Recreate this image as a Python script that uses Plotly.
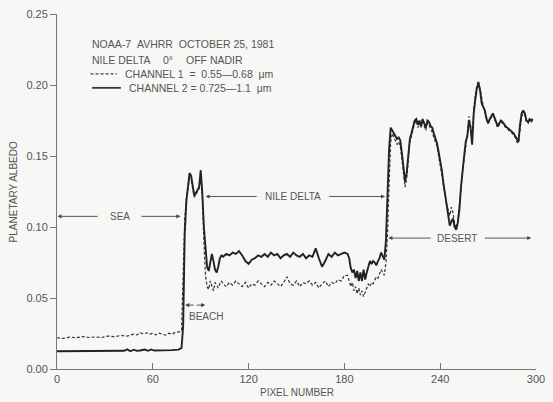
import plotly.graph_objects as go

# ---------------- data ----------------
# Channel 2 (solid) : pixel number / planetary albedo
CH2_SEA_X = [0, 6, 12, 18, 24, 30, 36, 42, 44, 46, 48, 50, 52, 55, 57, 59, 61, 64, 68, 72, 76, 78]
CH2_SEA_Y = [.0125, .0125, .0126, .0126, .0127, .0127, .0128, .0128, .0138, .0125, .0136, .0128,
             .0130, .0137, .0128, .0138, .0130, .0130, .0132, .0133, .0136, .0148]

BEACH_X = [79, 80, 81, 82, 83, 84, 85, 86, 87, 88, 89, 90, 91, 92, 93, 94, 95, 96, 97, 98, 99, 100, 101, 102, 103]
CH2_BEACH_Y = [.030, .095, .118, .130, .138, .136, .128, .122, .124, .126, .128, .140, .124, .100, .082,
               .072, .069, .074, .081, .076, .070, .068, .072, .078, .080]

DELTA_X = [104, 106, 108, 110, 112, 114, 116, 118, 120, 122,
           124, 126, 128, 130, 132, 134, 136, 138, 140, 142,
           144, 146, 148, 150, 152, 154, 156, 158, 160, 162,
           164, 166, 168, 170, 172, 174, 176, 178, 180, 182]
CH2_DELTA_Y = [.079, .081, .080, .082, .081, .083, .080, .076, .074, .077,
               .078, .080, .079, .081, .079, .082, .080, .081, .078, .080,
               .081, .079, .082, .080, .079, .081, .078, .080, .079, .085,
               .078, .072, .076, .081, .079, .082, .080, .081, .082, .081]

DESERT_X = [183, 184, 185, 186, 187, 188, 189, 190, 191, 192,
            193, 194, 195, 196, 197, 198, 199, 200, 201, 202,
            203, 204, 205, 206, 207, 208, 209, 210, 211, 212,
            213, 214, 215, 216, 217, 218, 219, 220, 221, 222,
            223, 224, 225, 226, 227, 228, 229, 230, 231, 232,
            233, 234, 235, 236, 237, 238, 239, 240, 241, 242,
            243, 244, 245, 246, 247, 248, 249, 250, 251, 252,
            253, 254, 255, 256, 257, 258, 259, 260, 261, 262,
            263, 264, 265, 266, 267, 268, 269, 270, 271, 272,
            273, 274, 275, 276, 277, 278, 279, 280, 281, 282,
            283, 284, 285, 286, 287, 288, 289, 290, 291, 292,
            293, 294, 295, 296, 297, 298]
CH2_DESERT_Y = [.078, .071, .068, .070, .064, .069, .062, .068, .062, .070,
                .063, .068, .073, .076, .074, .076, .075, .073, .076, .078,
                .082, .080, .077, .090, .125, .155, .170, .168, .166, .164,
                .162, .163, .161, .152, .142, .132, .138, .152, .162, .166,
                .170, .175, .176, .172, .175, .171, .176, .173, .170, .175,
                .174, .171, .170, .166, .162, .159, .153, .147, .140, .131,
                .124, .115, .108, .101, .104, .106, .100, .098, .103, .112,
                .128, .142, .150, .160, .164, .175, .170, .158, .180, .190,
                .198, .201, .196, .187, .184, .182, .176, .173, .176, .178,
                .180, .177, .174, .171, .173, .175, .174, .172, .171, .170,
                .169, .168, .167, .166, .164, .162, .160, .172, .180, .182,
                .180, .175, .174, .176, .175, .176]

# Channel 1 (dashed)
CH1_SEA_X = [0, 4, 8, 12, 16, 20, 24, 28, 32, 36, 40, 44, 48, 50, 52, 54, 56, 58, 60, 62, 64, 66, 68, 70,
             72, 74, 76, 78]
CH1_SEA_Y = [.0220, .0215, .0225, .0220, .0228, .0222, .0226, .0222, .0232, .0228, .0236, .0232, .0245,
             .0240, .0255, .0248, .0255, .0245, .0252, .0240, .0252, .0245, .0238, .0252, .0245, .0258,
             .0260, .0270]
CH1_BEACH_Y = [.060, .105, .120, .128, .134, .133, .126, .121, .123, .125, .127, .136, .122, .090, .066,
               .058, .056, .062, .058, .055, .061, .059, .057, .060, .062]
CH1_DELTA_Y = [.060, .058, .061, .059, .062, .060, .058, .061, .057, .060,
               .059, .062, .060, .058, .061, .059, .062, .060, .058, .061,
               .065, .060, .059, .062, .058, .061, .060, .062, .059, .061,
               .057, .060, .062, .058, .061, .060, .063, .062, .066, .066]
CH1_DESERT_Y = [.062, .058, .061, .055, .058, .053, .057, .052, .055, .051,
                .054, .057, .060, .058, .061, .060, .063, .065, .064, .067,
                .070, .068, .066, .075, .095, .130, .160, .166, .163, .160,
                .158, .160, .157, .148, .136, .128, .134, .150, .160, .164,
                .168, .173, .175, .170, .173, .170, .174, .171, .168, .173,
                .172, .169, .167, .163, .160, .157, .150, .144, .137, .129,
                .122, .116, .112, .108, .114, .110, .103, .099, .104, .113,
                .126, .140, .148, .158, .165, .178, .172, .160, .183, .193,
                .200, .203, .197, .189, .185, .181, .177, .174, .175, .177,
                .179, .176, .173, .170, .172, .174, .173, .171, .170, .169,
                .168, .167, .166, .165, .163, .160, .159, .170, .178, .180,
                .179, .174, .173, .175, .174, .175]

X_TICKS = [0, 60, 120, 180, 240, 300]
Y_TICKS = [0.0, 0.05, 0.10, 0.15, 0.20, 0.25]
Y_TICK_TEXT = ["0.00", "0.05", "0.10", "0.15", "0.20", "0.25"]

NB = "\u00a0"
HEADER_1 = "NOAA-7" + NB * 2 + "AVHRR" + NB * 2 + "OCTOBER 25, 1981"
HEADER_2 = ["NILE DELTA", "0°", "OFF NADIR"]
LEGEND_1 = "CHANNEL 1" + NB * 2 + "=" + NB * 2 + "0.55—0.68" + NB * 2 + "μm"
LEGEND_2 = "CHANNEL 2 = 0.725—1.1" + NB * 2 + "μm"

# ---------------- figure ----------------
FONT = "Liberation Sans, Arial, sans-serif"
INK = "#222222"
TXT = "#555555"

ch2_x = CH2_SEA_X + BEACH_X + DELTA_X + DESERT_X
ch2_y = CH2_SEA_Y + CH2_BEACH_Y + CH2_DELTA_Y + CH2_DESERT_Y
ch1_x = CH1_SEA_X + BEACH_X + DELTA_X + DESERT_X
ch1_y = CH1_SEA_Y + CH1_BEACH_Y + CH1_DELTA_Y + CH1_DESERT_Y

fig = go.Figure()
fig.add_trace(go.Scatter(x=ch1_x, y=ch1_y, mode="lines",
                         line=dict(color="#333333", width=1.2, dash="3px,2px"),
                         showlegend=False, hoverinfo="skip"))
fig.add_trace(go.Scatter(x=ch2_x, y=ch2_y, mode="lines",
                         line=dict(color=INK, width=1.9),
                         showlegend=False, hoverinfo="skip"))

anns = []


def text_at(x, y, t, anchor="left", size=10):
    anns.append(dict(x=x, y=y, xref="x", yref="y", text=t, showarrow=False,
                     xanchor=anchor, yanchor="middle", font=dict(size=size, color=TXT, family=FONT)))


# header block (pixel number positions)
text_at(20.9, 0.229, HEADER_1, size=10.5)
for t, xx in zip(HEADER_2, [20.9, 65.0, 79.8]):
    text_at(xx, 0.2177, t, size=10.5)
text_at(41.2, 0.2079, LEGEND_1, size=10.5)
text_at(43.6, 0.198, LEGEND_2, size=10.5)


def arrow(head_x, tail_x, y):
    anns.append(dict(x=head_x, y=y, ax=tail_x, ay=y, xref="x", yref="y", axref="x", ayref="y",
                     text="", showarrow=True, arrowhead=2, arrowsize=0.9, arrowwidth=0.9,
                     arrowcolor="#444444", standoff=0, startstandoff=0))


# SEA
arrow(0.3, 26.5, 0.1075)
arrow(77.3, 52.0, 0.1075)
text_at(39.3, 0.1075, "SEA", "center")
# NILE DELTA
arrow(93.0, 126.0, 0.1215)
arrow(205.5, 169.5, 0.1215)
text_at(147.8, 0.1215, "NILE DELTA", "center")
# DESERT
arrow(207.5, 235.0, 0.0922)
arrow(297.0, 267.0, 0.0922)
text_at(250.8, 0.0922, "DESERT", "center")
# BEACH
arrow(80.3, 86.5, 0.0450)
arrow(92.8, 86.5, 0.0450)
text_at(81.5, 0.0370, "BEACH")

# axis titles
anns.append(dict(x=-0.090, y=0.5, xref="paper", yref="paper", text="PLANETARY ALBEDO", textangle=-90,
                 showarrow=False, xanchor="center", yanchor="middle",
                 font=dict(size=10, color=TXT, family=FONT)))
anns.append(dict(x=0.5, y=-0.065, xref="paper", yref="paper", text="PIXEL NUMBER",
                 showarrow=False, xanchor="center", yanchor="middle",
                 font=dict(size=10, color=TXT, family=FONT)))

shapes = [
    # legend samples
    dict(type="line", xref="x", yref="y", x0=21, x1=37.5, y0=0.2079, y1=0.2079,
         line=dict(color="#444444", width=1.2, dash="3px,2px")),
    dict(type="line", xref="x", yref="y", x0=22, x1=40, y0=0.198, y1=0.198,
         line=dict(color="#333333", width=1.8)),
]

fig.update_layout(
    width=553, height=402,
    margin=dict(l=57, r=8, t=13, b=33),
    paper_bgcolor="#f7f7f5", plot_bgcolor="#f7f7f5",
    font=dict(family=FONT, color=TXT, size=10),
    annotations=anns, shapes=shapes,
    xaxis=dict(range=[0, 300], tickvals=X_TICKS, ticks="inside", ticklen=6, tickcolor="#777777",
               showline=True, linecolor="#777777", linewidth=1, showgrid=False, zeroline=False,
               ticklabeloverflow="allow",
               tickfont=dict(size=11, color=TXT, family=FONT)),
    yaxis=dict(range=[0, 0.25], tickvals=Y_TICKS, ticktext=Y_TICK_TEXT, ticks="outside", ticklen=6,
               tickcolor="#777777", showline=True, linecolor="#777777", linewidth=1, showgrid=False,
               zeroline=False, tickfont=dict(size=11, color=TXT, family=FONT)),
)

fig.write_html("out.html")
